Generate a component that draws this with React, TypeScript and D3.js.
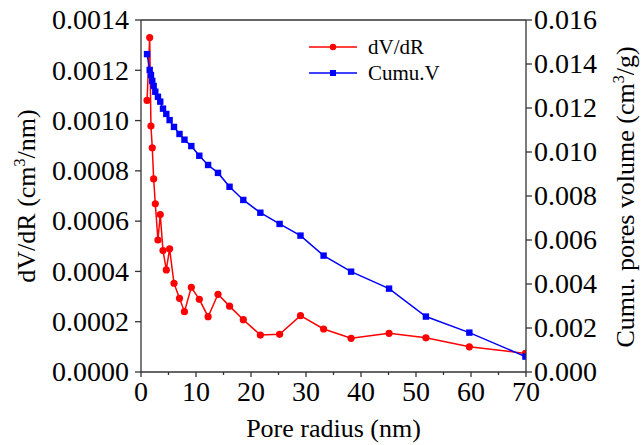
import React, { useRef, useEffect } from "react";
import * as d3 from "d3";

// pore radius (nm)
const radius = [1.1, 1.58, 1.81, 2.05, 2.3, 2.6, 3.08, 3.5, 4.0, 4.6, 5.2, 6.0, 7.0, 7.9, 9.15, 10.6, 12.2, 14.0, 16.1, 18.6, 21.7, 25.2, 29.0, 33.2, 38.2, 45.1, 51.8, 59.7, 69.9];
// dV/dR (cm3/nm)
const dVdR = [0.00108, 0.00133, 0.000978, 0.000892, 0.000768, 0.000669, 0.000525, 0.000626, 0.000483, 0.000406, 0.00049, 0.000353, 0.000293, 0.00024, 0.000337, 0.000289, 0.00022, 0.000309, 0.000262, 0.000208, 0.000147, 0.00015, 0.000224, 0.000171, 0.000134, 0.000154, 0.000136, 0.0001, 0.000074];
// cumulative pore volume (cm3/g)
const cumuV = [0.01445, 0.01373, 0.0135, 0.01323, 0.013, 0.01274, 0.01251, 0.01229, 0.01197, 0.01173, 0.01145, 0.01114, 0.01082, 0.01056, 0.01027, 0.00983, 0.00941, 0.00905, 0.00842, 0.00782, 0.00724, 0.00673, 0.0062, 0.00529, 0.00456, 0.00379, 0.00252, 0.00179, 0.0007];

const xTicks = [0, 10, 20, 30, 40, 50, 60, 70];
const xMinorTicks = [5, 15, 25, 35, 45, 55, 65];
const leftTicks = [0, 0.0002, 0.0004, 0.0006, 0.0008, 0.001, 0.0012, 0.0014];
const rightTicks = [0, 0.002, 0.004, 0.006, 0.008, 0.01, 0.012, 0.014, 0.016];

const App = () => {
  const svgRef = useRef<SVGSVGElement>(null);

  useEffect(() => {
    document.body.style.margin = "0";
    const svg = d3.select(svgRef.current);
    svg.selectAll("*").remove();

    const width = 641;
    const height = 445;
    const left = 141, right = 526, top = 20, bottom = 372;
    const font = '"Liberation Serif", "DejaVu Serif", Times, serif';
    const axisColor = "#333";

    const x = d3.scaleLinear().domain([0, 70]).range([left, right]);
    const yL = d3.scaleLinear().domain([0, 0.0014]).range([bottom, top]);
    const yR = d3.scaleLinear().domain([0, 0.016]).range([bottom, top]);

    svg.attr("width", width).attr("height", height).attr("viewBox", `0 0 ${width} ${height}`)
      .style("font-family", font);

    svg.append("defs").append("clipPath").attr("id", "plotClip")
      .append("rect").attr("x", left).attr("y", top).attr("width", right - left).attr("height", bottom - top);

    const plot = svg.append("g").attr("clip-path", "url(#plotClip)");

    const redData = radius.map((r, i) => [r, dVdR[i]] as [number, number]);
    const blueData = radius.map((r, i) => [r, cumuV[i]] as [number, number]);

    plot.append("path")
      .attr("d", d3.line().x(d => x(d[0])).y(d => yL(d[1]))(redData))
      .attr("fill", "none").attr("stroke", "#ff0000").attr("stroke-width", 1.5);
    plot.selectAll("circle.red").data(redData).join("circle")
      .attr("class", "red")
      .attr("cx", d => x(d[0])).attr("cy", d => yL(d[1])).attr("r", 3.6)
      .attr("fill", "#ff0000");

    plot.append("path")
      .attr("d", d3.line().x(d => x(d[0])).y(d => yR(d[1]))(blueData))
      .attr("fill", "none").attr("stroke", "#0000ff").attr("stroke-width", 1.5);
    plot.selectAll("rect.blue").data(blueData).join("rect")
      .attr("class", "blue")
      .attr("x", d => x(d[0]) - 3.2).attr("y", d => yR(d[1]) - 3.2)
      .attr("width", 6.4).attr("height", 6.4)
      .attr("fill", "#0000ff");

    // frame
    const axes = svg.append("g").attr("stroke", axisColor).attr("stroke-width", 1.3);
    axes.append("line").attr("x1", left).attr("x2", right).attr("y1", top).attr("y2", top);
    axes.append("line").attr("x1", left).attr("x2", right).attr("y1", bottom).attr("y2", bottom);
    axes.append("line").attr("x1", left).attr("x2", left).attr("y1", top).attr("y2", bottom);
    axes.append("line").attr("x1", right).attr("x2", right).attr("y1", top).attr("y2", bottom);

    // ticks
    axes.selectAll("line.xt").data(xTicks).join("line").attr("class", "xt")
      .attr("x1", d => x(d)).attr("x2", d => x(d)).attr("y1", bottom).attr("y2", bottom + 5);
    axes.selectAll("line.xm").data(xMinorTicks).join("line").attr("class", "xm")
      .attr("x1", d => x(d)).attr("x2", d => x(d)).attr("y1", bottom).attr("y2", bottom + 3);
    axes.selectAll("line.lt").data(leftTicks).join("line").attr("class", "lt")
      .attr("x1", left - 6).attr("x2", left).attr("y1", d => yL(d)).attr("y2", d => yL(d));
    axes.selectAll("line.rt").data(rightTicks).join("line").attr("class", "rt")
      .attr("x1", right).attr("x2", right + 6).attr("y1", d => yR(d)).attr("y2", d => yR(d));

    const labels = svg.append("g").attr("font-size", 28).attr("fill", "#000");
    labels.selectAll("text.xl").data(xTicks).join("text").attr("class", "xl")
      .attr("x", d => x(d)).attr("y", 401).attr("text-anchor", "middle").text(d => d);
    labels.selectAll("text.ll").data(leftTicks).join("text").attr("class", "ll")
      .attr("x", left - 12).attr("y", d => yL(d)).attr("dy", "0.33em").attr("text-anchor", "end")
      .text(d => d3.format(".4f")(d));
    labels.selectAll("text.rl").data(rightTicks).join("text").attr("class", "rl")
      .attr("x", right + 8).attr("y", d => yR(d)).attr("dy", "0.33em").attr("text-anchor", "start")
      .text(d => d3.format(".3f")(d));

    // axis titles
    const titles = svg.append("g").attr("font-size", 26).attr("fill", "#000");
    titles.append("text").attr("x", (left + right) / 2).attr("y", 437).attr("text-anchor", "middle")
      .text("Pore radius (nm)");

    const lt = titles.append("text").attr("text-anchor", "middle")
      .attr("transform", `translate(35,${(top + bottom) / 2}) rotate(-90)`);
    lt.append("tspan").text("dV/dR (cm");
    lt.append("tspan").attr("font-size", 16).attr("dy", -10).text("3");
    lt.append("tspan").attr("dy", 10).text("/nm)");

    const rt = titles.append("text").attr("text-anchor", "middle")
      .attr("transform", `translate(634,197) rotate(-90)`);
    rt.append("tspan").text("Cumu. pores volume (cm");
    rt.append("tspan").attr("font-size", 16).attr("dy", -10).text("3");
    rt.append("tspan").attr("dy", 10).text("/g)");

    // legend
    const legend = svg.append("g").attr("font-size", 21);
    legend.append("line").attr("x1", 309).attr("x2", 357).attr("y1", 47).attr("y2", 47)
      .attr("stroke", "#ff0000").attr("stroke-width", 1.5);
    legend.append("circle").attr("cx", 333).attr("cy", 47).attr("r", 3.2).attr("fill", "#ff0000");
    legend.append("text").attr("x", 368).attr("y", 47).attr("dy", "0.33em").text("dV/dR");
    legend.append("line").attr("x1", 309).attr("x2", 357).attr("y1", 73).attr("y2", 73)
      .attr("stroke", "#0000ff").attr("stroke-width", 1.5);
    legend.append("rect").attr("x", 330).attr("y", 70).attr("width", 6).attr("height", 6).attr("fill", "#0000ff");
    legend.append("text").attr("x", 368).attr("y", 73).attr("dy", "0.33em").text("Cumu.V");
  }, []);

  return <svg ref={svgRef} style={{ display: "block" }}></svg>;
};

export default App;
